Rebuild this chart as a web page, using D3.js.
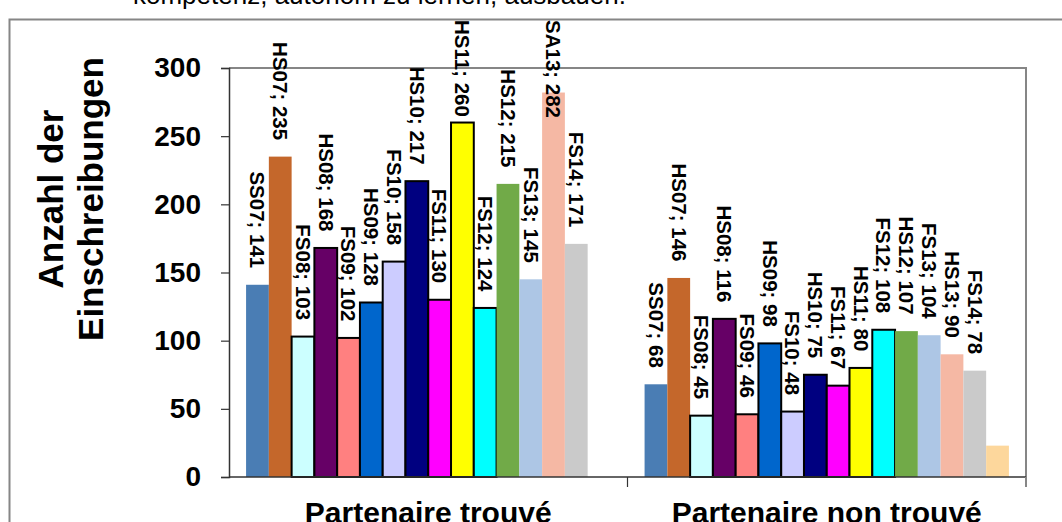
<!DOCTYPE html>
<html>
<head>
<meta charset="utf-8">
<script src="https://cdn.jsdelivr.net/npm/d3@7/dist/d3.min.js"></script>
<style>
  html, body { margin: 0; padding: 0; background: #fff; }
  svg { display: block; font-family: "Liberation Sans", Arial, sans-serif; }
</style>
</head>
<body>
<svg id="chart" width="1062" height="522"></svg>
<script>
// Enrolment counts per semester, split by whether a partner was found
const groups = ["Partenaire trouvé", "Partenaire non trouvé"];
const seriesKeys = ["SS07", "HS07", "FS08", "HS08", "FS09", "HS09", "FS10", "HS10",
                    "FS11", "HS11", "FS12", "HS12", "FS13", "SA13", "FS14", "HS14"];
const labelsFound    = ["SS07", "HS07", "FS08", "HS08", "FS09", "HS09", "FS10", "HS10",
                        "FS11", "HS11", "FS12", "HS12", "FS13", "SA13", "FS14", null];
const labelsNotFound = ["SS07", "HS07", "FS08", "HS08", "FS09", "HS09", "FS10", "HS10",
                        "FS11", "HS11", "FS12", "HS12", "FS13", "HS13", "FS14", null];
const valuesFound    = [141, 235, 103, 168, 102, 128, 158, 217, 130, 260, 124, 215, 145, 282, 171, null];
const valuesNotFound = [68, 146, 45, 116, 46, 98, 48, 75, 67, 80, 108, 107, 104, 90, 78, 23];
const seriesColors = ["#4A7DB4", "#C4672B", "#CCFFFF", "#660066", "#FF8080", "#0066CC",
                      "#CCCCFF", "#000080", "#FF00FF", "#FFFF00", "#00FFFF", "#71AA48",
                      "#ADC6E5", "#F5B8A4", "#CACACA", "#FDD79C"];
const outlinedSeries = ["FS08", "HS08", "FS09", "HS09", "FS10", "HS10", "FS11", "HS11", "FS12"];
const yTicks = [0, 50, 100, 150, 200, 250, 300];
const yTitle = ["Anzahl der", "Einschreibungen"];
const headerText = "kompetenz, autonom zu lernen, ausbauen.";

const groupValues = [valuesFound, valuesNotFound];
const groupLabels = [labelsFound, labelsNotFound];

const svg = d3.select("#chart");
const plot = { left: 229, right: 1026, top: 68, bottom: 477 };
const frameTop = 19.5;

// text running on from the slide above the chart
svg.append("text")
  .attr("x", 133).attr("y", 4)
  .attr("font-size", 26)
  .attr("fill", "#000")
  .text(headerText);

// outer chart frame
svg.append("path")
  .attr("d", `M9.5,540 V${frameTop} H1070`)
  .attr("fill", "none").attr("stroke", "#868686").attr("stroke-width", 2);

const x0 = d3.scaleBand().domain(groups).range([plot.left, plot.right]).padding(0);
const x1 = d3.scaleBand().domain(seriesKeys).range([0, x0.bandwidth()])
  .paddingInner(0).paddingOuter(0.75);
const y = d3.scaleLinear().domain([0, 300]).range([plot.bottom, plot.top]);
const color = d3.scaleOrdinal().domain(seriesKeys).range(seriesColors);

// plot area border (top and right)
svg.append("path")
  .attr("d", `M${plot.left},${plot.top} H${plot.right} V${plot.bottom}`)
  .attr("fill", "none").attr("stroke", "#868686").attr("stroke-width", 2);

// bars
const rows = [];
groups.forEach((g, gi) => {
  seriesKeys.forEach((k, si) => {
    const v = groupValues[gi][si];
    if (v == null) return;
    rows.push({ group: g, key: k, value: v, label: groupLabels[gi][si] });
  });
});

const bars = svg.append("g");
bars.selectAll("rect").data(rows).join("rect")
  .attr("x", d => x0(d.group) + x1(d.key))
  .attr("y", d => y(d.value))
  .attr("width", x1.bandwidth())
  .attr("height", d => y(0) - y(d.value))
  .attr("fill", d => color(d.key))
  .attr("stroke", d => outlinedSeries.includes(d.key) ? "#000" : "none")
  .attr("stroke-width", 2);

// value labels, rotated, ending just above each bar; kept inside the frame
const labelFont = 20.5;
const labels = svg.append("g");
rows.filter(d => d.label).forEach(d => {
  const cx = x0(d.group) + x1(d.key) + x1.bandwidth() / 2;
  const g = labels.append("g");
  const t = g.append("text")
    .attr("text-anchor", "start")
    .attr("dy", "0.35em")
    .attr("font-size", labelFont)
    .attr("font-weight", "bold")
    .attr("fill", "#000")
    .text(`${d.label}; ${d.value}`);
  const len = t.node().getComputedTextLength();
  const startY = Math.max(y(d.value) - 16.5 - len, frameTop + 0.5);
  g.attr("transform", `translate(${cx},${startY}) rotate(90)`);
});

// y axis
const yAxis = d3.axisLeft(y).tickValues(yTicks).tickSize(8).tickPadding(20)
  .tickFormat(d3.format("d"));
const gy = svg.append("g").attr("transform", `translate(${plot.left},0)`).call(yAxis);
gy.select(".domain").attr("stroke", "#333").attr("stroke-width", 1.5);
gy.selectAll(".tick line").attr("stroke", "#333").attr("stroke-width", 1.2);
gy.selectAll(".tick text")
  .attr("font-size", 28).attr("font-weight", "bold").attr("fill", "#000")
  .attr("font-family", "Liberation Sans, Arial, sans-serif");

// x axis: ticks at category boundaries
const gx = svg.append("g").attr("transform", `translate(0,${plot.bottom})`);
gx.append("line").attr("x1", plot.left).attr("x2", plot.right)
  .attr("stroke", "#333").attr("stroke-width", 1.5);
gx.selectAll("line.tick").data(groups).join("line").attr("class", "tick")
  .attr("x1", g => x0(g) + x0.bandwidth()).attr("x2", g => x0(g) + x0.bandwidth())
  .attr("y1", 0).attr("y2", 10)
  .attr("stroke", (g, i) => i === groups.length - 1 ? "#868686" : "#333")
  .attr("stroke-width", (g, i) => i === groups.length - 1 ? 2 : 1.2);
gx.selectAll("text").data(groups).join("text")
  .attr("x", g => x0(g) + x0.bandwidth() / 2)
  .attr("y", 46)
  .attr("text-anchor", "middle")
  .attr("font-size", 30).attr("font-weight", "bold").attr("fill", "#000")
  .text(g => g);

// y axis title
const yt = svg.append("text")
  .attr("transform", "translate(0,199) rotate(-90)")
  .attr("text-anchor", "middle")
  .attr("font-size", 35).attr("font-weight", "bold").attr("fill", "#000");
yt.selectAll("tspan").data(yTitle).join("tspan")
  .attr("x", 0)
  .attr("y", (d, i) => i === 0 ? 63 : 102.5)
  .text(d => d);
</script>
</body>
</html>
